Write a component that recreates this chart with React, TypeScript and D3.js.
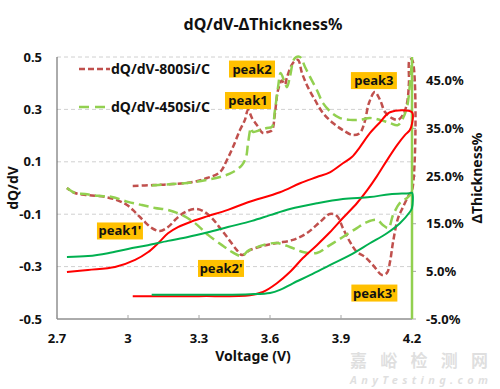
import * as d3 from "d3";

type Pt = [number, number];

const voltageTicks = [2.7, 3, 3.3, 3.6, 3.9, 4.2];
const dqdvTicks = [-0.5, -0.3, -0.1, 0.1, 0.3, 0.5];
const thicknessTicks = [-5, 5, 15, 25, 35, 45];

// dQ/dV, 800Si/C: charge, CV step at 4.2 V, discharge
const dqdv800: Pt[] = [
  [3.02, 0.008], [3.106, 0.011], [3.19, 0.015], [3.275, 0.023], [3.334, 0.038],
  [3.389, 0.061], [3.418, 0.107], [3.444, 0.157], [3.473, 0.221], [3.494, 0.26],
  [3.507, 0.298], [3.524, 0.267], [3.545, 0.24], [3.57, 0.21], [3.591, 0.214],
  [3.608, 0.22], [3.621, 0.286], [3.634, 0.374], [3.65, 0.41], [3.663, 0.395],
  [3.672, 0.424], [3.697, 0.477], [3.718, 0.489], [3.735, 0.439], [3.76, 0.385],
  [3.79, 0.336], [3.824, 0.286], [3.866, 0.248], [3.908, 0.221], [3.95, 0.202],
  [3.98, 0.21], [4.0, 0.252], [4.018, 0.324], [4.043, 0.366], [4.065, 0.336],
  [4.086, 0.29], [4.115, 0.267], [4.14, 0.26], [4.162, 0.279], [4.179, 0.324],
  [4.187, 0.4], [4.19, 0.489], [4.2, 0.49], [4.2, -0.01],
  [4.187, -0.027], [4.162, -0.073], [4.141, -0.115], [4.12, -0.206], [4.107, -0.282],
  [4.094, -0.324], [4.073, -0.332], [4.035, -0.294], [4.001, -0.263], [3.967, -0.244],
  [3.938, -0.206], [3.908, -0.153], [3.883, -0.107], [3.853, -0.099], [3.811, -0.13],
  [3.756, -0.172], [3.697, -0.198], [3.629, -0.21], [3.57, -0.221], [3.515, -0.237],
  [3.482, -0.256], [3.46, -0.237], [3.422, -0.191], [3.389, -0.153], [3.355, -0.115],
  [3.317, -0.088], [3.283, -0.08], [3.241, -0.092], [3.207, -0.115], [3.169, -0.149],
  [3.135, -0.164], [3.101, -0.153], [3.063, -0.122], [3.03, -0.092], [2.996, -0.065],
  [2.953, -0.046], [2.903, -0.034], [2.831, -0.027], [2.776, -0.019], [2.742, 0.0],
];

// dQ/dV, 450Si/C
const dqdv450Charge: Pt[] = [
  [3.1, 0.01], [3.19, 0.015], [3.275, 0.022], [3.334, 0.031], [3.389, 0.042],
  [3.444, 0.061], [3.482, 0.088], [3.499, 0.118], [3.507, 0.17], [3.52, 0.229],
  [3.528, 0.214], [3.558, 0.221], [3.587, 0.229], [3.608, 0.233], [3.621, 0.298],
  [3.634, 0.385], [3.645, 0.439], [3.663, 0.4], [3.672, 0.385], [3.684, 0.424],
  [3.705, 0.496], [3.727, 0.5], [3.748, 0.462], [3.769, 0.424], [3.798, 0.374],
  [3.824, 0.324], [3.862, 0.286], [3.896, 0.267], [3.938, 0.26], [3.98, 0.26],
  [4.022, 0.267], [4.065, 0.26], [4.107, 0.248], [4.14, 0.24], [4.162, 0.267],
  [4.179, 0.309], [4.19, 0.385], [4.2, 0.489],
];
const dqdv450Cv: Pt[] = [[4.2, 0.5], [4.2, -0.5]];
const dqdv450Discharge: Pt[] = [
  [4.2, -0.019], [4.179, -0.038], [4.149, -0.057], [4.12, -0.103], [4.1, -0.153],
  [4.077, -0.141], [4.052, -0.122], [4.01, -0.13], [3.967, -0.153], [3.908, -0.187],
  [3.853, -0.218], [3.798, -0.248], [3.739, -0.244], [3.684, -0.225], [3.629, -0.21],
  [3.57, -0.218], [3.537, -0.229], [3.507, -0.24], [3.482, -0.26], [3.439, -0.244],
  [3.397, -0.218], [3.338, -0.179], [3.283, -0.134], [3.228, -0.103], [3.169, -0.084],
  [3.114, -0.076], [3.059, -0.065], [3.0, -0.053], [2.932, -0.034], [2.873, -0.03],
  [2.818, -0.023], [2.776, -0.019], [2.742, 0.0],
];

// thickness change %, 800Si/C
const thick800: Pt[] = [
  [3.02, -0.2], [3.3, -0.2], [3.515, 0.0], [3.57, 0.66], [3.629, 2.5], [3.684, 4.85],
  [3.739, 7.8], [3.798, 10.5], [3.853, 13.2], [3.908, 16.2], [3.967, 19.3], [4.01, 22.0],
  [4.052, 25.0], [4.094, 28.3], [4.137, 31.5], [4.17, 33.6], [4.19, 34.6], [4.2, 36.0],
  [4.2, 38.4], [4.107, 38.4], [4.065, 36.3], [4.022, 34.0], [3.98, 31.1], [3.946, 29.0],
  [3.908, 27.7], [3.853, 25.8], [3.798, 24.8], [3.727, 23.5], [3.642, 21.6], [3.507, 19.5],
  [3.422, 17.9], [3.338, 16.6], [3.27, 15.5], [3.211, 14.3], [3.169, 13.0], [3.127, 10.9],
  [3.084, 9.0], [3.03, 7.4], [2.945, 5.9], [2.831, 5.3], [2.742, 4.85],
];

// thickness change %, 450Si/C
const thick450: Pt[] = [
  [3.1, 0.1], [3.4, 0.1], [3.515, 0.2], [3.6, 0.45], [3.642, 1.1], [3.697, 2.5],
  [3.769, 4.2], [3.853, 6.3], [3.938, 8.4], [4.022, 10.9], [4.094, 13.0], [4.149, 15.1],
  [4.19, 17.4], [4.2, 18.3], [4.2, 21.5], [4.19, 21.4], [4.107, 21.2], [4.022, 20.6],
  [3.908, 20.2], [3.798, 19.3], [3.684, 18.1], [3.6, 16.8], [3.524, 15.6], [3.422, 14.3],
  [3.338, 13.2], [3.253, 12.2], [3.169, 11.4], [3.084, 10.5], [3.0, 9.7], [2.915, 8.8],
  [2.831, 8.2], [2.742, 8.0],
];

// peak tags, placed in voltage / dQ/dV units
const peakNames = ["peak2", "peak1", "peak3", "peak1'", "peak2'", "peak3'"];
const peakV = [3.524, 3.507, 4.039, 2.966, 3.393, 4.041];
const peakQ = [0.454, 0.334, 0.41, -0.164, -0.307, -0.401];

const W = 500;
const H = 389;
const plot = { left: 57, right: 412, top: 57, bottom: 319 };
const font = "'Noto Sans', 'Open Sans', sans-serif";

const BROWN = "#C0504D";
const LIME = "#92D050";
const RED = "#FF0000";
const GREEN = "#00B050";
const INK = "#111";

export default function App() {
  const x = d3.scaleLinear().domain([2.7, 4.2]).range([plot.left, plot.right]);
  const yL = d3.scaleLinear().domain([-0.5, 0.5]).range([plot.bottom, plot.top]);
  const yR = d3.scaleLinear().domain([-5, 50]).range([plot.bottom, plot.top]);

  const lineL = d3
    .line<Pt>()
    .x(d => x(d[0]))
    .y(d => yL(d[1]))
    .curve(d3.curveCatmullRom.alpha(0.5));
  const lineR = d3
    .line<Pt>()
    .x(d => x(d[0]))
    .y(d => yR(d[1]))
    .curve(d3.curveCatmullRom.alpha(0.5));

  const fmtL = (t: number) => t.toFixed(1);
  const fmtR = (t: number) => t.toFixed(1) + "%";

  return (
    <svg
      width={W}
      height={H}
      style={{ position: "absolute", left: 0, top: 0, background: "#fff" }}
      fontFamily={font}
      fontWeight="bold"
    >
      <text x={263} y={30} textAnchor="middle" fontSize={16} fill={INK}>
        dQ/dV-ΔThickness%
      </text>

      {/* grid */}
      {dqdvTicks.filter(t => t > -0.5).map(t => (
        <line
          key={"g" + t}
          x1={plot.left}
          x2={plot.right}
          y1={yL(t)}
          y2={yL(t)}
          stroke="#D0D0D0"
          strokeDasharray="4,3"
        />
      ))}

      {/* axes */}
      <line x1={plot.left} x2={plot.left} y1={plot.top} y2={plot.bottom} stroke="#595959" />
      <line x1={plot.left} x2={plot.right} y1={plot.bottom} y2={plot.bottom} stroke="#595959" />
      <line x1={plot.right} x2={plot.right} y1={plot.top} y2={plot.bottom} stroke="#A6A6A6" />
      {voltageTicks.map(t => (
        <g key={"x" + t}>
          <line x1={x(t)} x2={x(t)} y1={plot.bottom} y2={plot.bottom - 4} stroke="#A6A6A6" />
          <text x={x(t)} y={343} textAnchor="middle" fontSize={13} fill={INK}>
            {t}
          </text>
        </g>
      ))}
      {dqdvTicks.map(t => (
        <text key={"l" + t} x={42} y={yL(t) + 4.6} textAnchor="end" fontSize={13} fill={INK}>
          {fmtL(t)}
        </text>
      ))}
      {thicknessTicks.map(t => (
        <g key={"r" + t}>
          <line x1={plot.right} x2={plot.right + 4} y1={yR(t)} y2={yR(t)} stroke="#A6A6A6" />
          <text x={426} y={yR(t) + 4.6} fontSize={13} fill={INK}>
            {fmtR(t)}
          </text>
        </g>
      ))}
      <text x={253} y={361} textAnchor="middle" fontSize={14} fill={INK}>
        Voltage (V)
      </text>
      <text transform="translate(18,188) rotate(-90)" textAnchor="middle" fontSize={14} fill={INK}>
        dQ/dV
      </text>
      <text transform="translate(482,178) rotate(-90)" textAnchor="middle" fontSize={14} fill={INK}>
        ΔThickness%
      </text>

      {/* dQ/dV series */}
      <path d={lineL(dqdv800) ?? ""} fill="none" stroke={BROWN} strokeWidth={2.5} strokeDasharray="6,3" />
      <path d={lineL(dqdv450Charge) ?? ""} fill="none" stroke={LIME} strokeWidth={2.5} strokeDasharray="10,5" />
      <path d={lineL(dqdv450Cv) ?? ""} fill="none" stroke={LIME} strokeWidth={2.5} />
      <path d={lineL(dqdv450Discharge) ?? ""} fill="none" stroke={LIME} strokeWidth={2.5} strokeDasharray="10,5" />

      {/* thickness series */}
      <path d={lineR(thick800) ?? ""} fill="none" stroke={RED} strokeWidth={2} />
      <path d={lineR(thick450) ?? ""} fill="none" stroke={GREEN} strokeWidth={2} />

      {/* peak tags */}
      {peakNames.map((p, i) => (
        <g key={p} transform={`translate(${x(peakV[i])},${yL(peakQ[i])})`}>
          <rect x={-23} y={-8.5} width={46} height={17} fill="#FFC000" />
          <text y={4.5} textAnchor="middle" fontSize={13} fill={INK}>
            {p}
          </text>
        </g>
      ))}

      {/* legend */}
      <line x1={79} x2={110} y1={69} y2={69} stroke={BROWN} strokeWidth={2.5} strokeDasharray="6,3" />
      <text x={111} y={73.5} fontSize={14} fill={INK}>
        dQ/dV-800Si/C
      </text>
      <line x1={79} x2={110} y1={107} y2={107} stroke={LIME} strokeWidth={2.5} strokeDasharray="10,6" />
      <text x={111} y={111.5} fontSize={14} fill={INK}>
        dQ/dV-450Si/C
      </text>

      {/* source watermark */}
      <text x={350} y={367} fontSize={17} fill="#DADADA" fillOpacity={0.85} fontFamily="'Noto Sans CJK SC', sans-serif" textLength={138}>
        嘉峪检测网
      </text>
      <text x={350} y={384} fontSize={11} fontStyle="italic" fill="#DADADA" fillOpacity={0.85} textLength={138}>
        AnyTesting.com
      </text>
    </svg>
  );
}
